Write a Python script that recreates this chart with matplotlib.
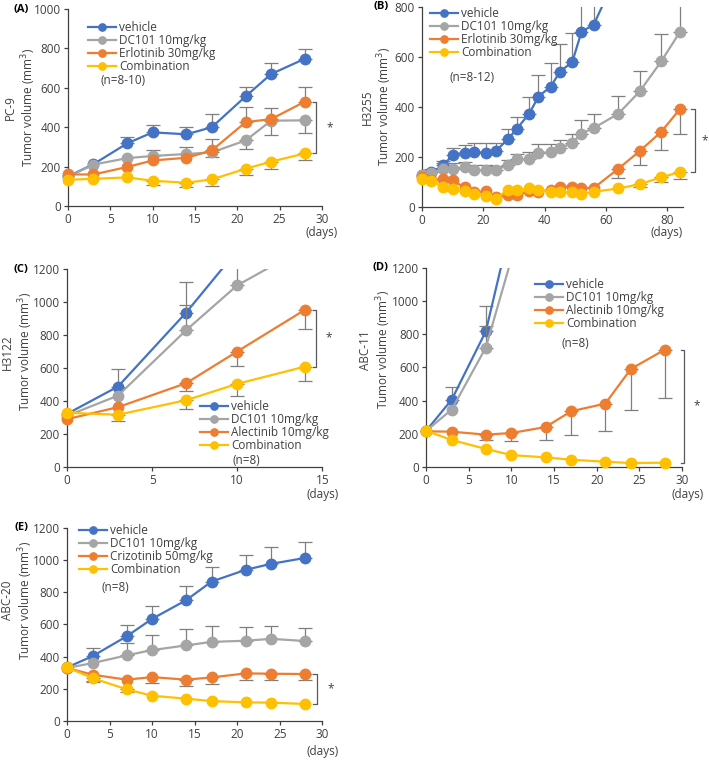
import numpy as np
import matplotlib
matplotlib.use("Agg")
from matplotlib import pyplot as plt
from matplotlib.patches import Rectangle
from matplotlib import transforms

plt.rcParams['font.family'] = ['Open Sans', 'DejaVu Sans']

# colours (Excel-like)
C_VEH = '#4472C4'
C_DC = '#A5A5A5'
C_DRUG = '#ED7D31'
C_COMBO = '#FFC000'
C_ERR = '#7F7F7F'
C_TXT = '#404040'

# ---------------- data (None = no error bar visible) ----------------
# (A) PC-9
a_days = [0, 3, 7, 10, 14, 17, 21, 24, 28]
a_vehicle = [150, 212, 318, 374, 364, 400, 557, 670, 748]
a_vehicle_err = [None, None, 351, 410, 402, 467, 605, 724, 796]
a_dc101 = [148, 210, 243, 254, 264, 272, 333, 433, 435]
a_dc101_err = [None, None, None, 282, 302, 250, 290, 362, 372]
a_erlo = [160, 160, 198, 231, 245, 282, 426, 441, 530]
a_erlo_err = [None, None, None, None, None, 341, 502, 497, 602]
a_combo = [133, 138, 145, 128, 118, 135, 189, 225, 267]
a_combo_err = [None, None, None, 107, 97, 100, 155, 186, 231]

# (B) H3255
b_days_vehicle = [0, 3, 7, 10, 14, 17, 21, 24, 28, 31, 35, 38, 42, 45, 49, 52, 56, 63]
b_vehicle = [125, 138, 165, 208, 216, 218, 216, 222, 270, 313, 373, 441, 481, 541, 579, 700, 729, 915]
b_vehicle_err = [None, 150, 182, 236, 248, 255, 257, 257, 310, 360, 440, 527, 575, 653, 697, 880, 930, None]
b_days = [0, 3, 7, 10, 14, 17, 21, 24, 28, 31, 35, 38, 42, 45, 49, 52, 56, 64, 71, 78, 84]
b_dc101 = [128, 133, 152, 152, 157, 148, 145, 145, 168, 190, 190, 215, 218, 235, 255, 293, 315, 372, 462, 582, 698]
b_dc101_err = [None, None, 175, 175, 180, 165, 165, 163, 188, 213, 218, 250, 250, 268, 293, 347, 372, 442, 545, 693, 850]
b_erlo = [117, 108, 110, 105, 77, 59, 61, 40, 48, 48, 61, 60, 68, 80, 80, 75, 75, 152, 223, 300, 390]
b_erlo_err = [None] * 17 + [113, 165, 228, 293]
b_combo = [112, 104, 78, 70, 62, 50, 43, 31, 68, 65, 73, 65, 60, 58, 57, 50, 60, 73, 90, 118, 138]
b_combo_err = [None] * 18 + [78, 97, 112]

# (C) H3122
c_days = [0, 3, 7, 10, 14]
c_days_vehicle = [0, 3, 7, 10]
c_vehicle = [322, 488, 936, 1312]
c_vehicle_err = [None, 595, 1119, None]
c_dc101 = [310, 433, 829, 1101, 1330]
c_dc101_err = [None, None, 980, 1300, None]
c_alec = [290, 363, 508, 700, 954]
c_alec_err = [None, None, 462, 613, 839]
c_combo = [329, 317, 405, 504, 609]
c_combo_err = [None, 278, 349, 429, 524]

# (D) ABC-11
d_days = [0, 3, 7, 10, 14, 17, 21, 24, 28]
d_days_short = [0, 3, 7, 10]
d_vehicle = [218, 406, 818, 1470]
d_vehicle_err = [None, 482, 973, None]
d_dc101 = [218, 346, 720, 1255]
d_dc101_err = [None, None, 848, None]
d_alec = [215, 213, 195, 205, 241, 336, 382, 591, 708]
d_alec_err = [None, None, 165, 157, 161, 195, 219, 344, 416]
d_combo = [218, 163, 109, 72, 58, 44, 32, 24, 26]
d_combo_err = [None] * 9

# (E) ABC-20
e_days = [0, 3, 7, 10, 14, 17, 21, 24, 28]
e_vehicle = [333, 403, 526, 635, 751, 867, 940, 977, 1014]
e_vehicle_err = [None, 453, 598, 716, 840, 956, 1032, 1080, 1111]
e_dc101 = [330, 360, 408, 441, 470, 492, 499, 511, 497]
e_dc101_err = [None, None, 486, 536, 573, 590, 583, 592, 579]
e_crizo = [330, 288, 257, 273, 257, 271, 296, 294, 292]
e_crizo_err = [None, 250, None, 236, 215, 230, 257, 258, 255]
e_combo = [333, 267, 197, 157, 139, 124, 116, 114, 106]
e_combo_err = [None, 245, 180, None, None, None, None, None, None]


def clip_it(artist, ax):
    # clip at top of axes only, let markers at x=0 hang over the spine
    artist.set_clip_path(Rectangle((-0.06, -0.06), 1.12, 1.06, transform=ax.transAxes))


def draw_panel(ax, series, xmax, xstep, ymax, cell, letter, n_text, n_pos,
               leg_pos, ylab_xy, letter_x, brk_x, star_x, days_xy):
    for z, (label, days, vals, err, col) in enumerate(series):
        days = np.array(days, float)
        vals = np.array(vals, float)
        ends = np.array([np.nan if e is None else e for e in err], float)
        ok = ~np.isnan(ends)
        if ok.any():
            lo = np.where(ends < vals, vals - ends, 0)[ok]
            hi = np.where(ends > vals, ends - vals, 0)[ok]
            eb = ax.errorbar(days[ok], vals[ok], yerr=[lo, hi], fmt='none', ecolor=C_ERR,
                             elinewidth=0.9, capsize=5, capthick=0.9, zorder=2 + z)
            for ch in eb.get_children():
                clip_it(ch, ax)
        ln, = ax.plot(days, vals, '-o', color=col, lw=1.6, ms=7.5, label=label, zorder=2.5 + z)
        clip_it(ln, ax)

    ax.set_xlim(0, xmax)
    ax.set_ylim(0, ymax)
    ax.set_xticks(np.arange(0, xmax + 0.1, xstep))
    ax.set_yticks(np.arange(0, ymax + 1, 200))
    for s in ['top', 'right']:
        ax.spines[s].set_visible(False)
    for s in ['left', 'bottom']:
        ax.spines[s].set_color(C_TXT)
        ax.spines[s].set_linewidth(0.9)
    ax.tick_params(direction='out', length=3, width=0.9, color=C_TXT,
                   labelsize=8.5, labelcolor=C_TXT, pad=2)
    ax.set_ylabel(cell + '\nTumor volume (mm$^3$)', fontsize=8.5, color=C_TXT,
                  linespacing=1.15, multialignment='center')
    ax.yaxis.set_label_coords(*ylab_xy)

    ax.legend(loc='upper left', bbox_to_anchor=leg_pos, frameon=False, fontsize=8.5,
              handlelength=2.4, handletextpad=0.25, labelspacing=0.0, borderpad=0,
              borderaxespad=0, markerscale=0.7, labelcolor=C_TXT)
    ax.text(n_pos[0], n_pos[1], n_text, fontsize=8.5, color=C_TXT, va='center', ha='left')

    # significance bracket between single drug and combination at last day
    y_top = series[2][2][-1]
    y_bot = series[3][2][-1]
    tr = transforms.blended_transform_factory(ax.transAxes, ax.transData)
    ax.plot([brk_x - 0.014, brk_x, brk_x, brk_x - 0.014], [y_top, y_top, y_bot, y_bot],
            color='#595959', lw=0.9, transform=tr, clip_on=False)
    ax.text(star_x, (y_top + y_bot) / 2, '*', fontsize=8.5, color=C_TXT,
            ha='center', va='center', transform=tr)

    ax.text(days_xy[0], days_xy[1], '(days)', fontsize=8.5, color=C_TXT,
            ha='center', va='center', transform=ax.transAxes)
    ax.text(letter_x, 1.0, letter, fontsize=8, fontweight='bold', color='black',
            ha='center', va='center', transform=ax.transAxes)


fig = plt.figure(figsize=(7.09, 7.60), dpi=100)

axA = fig.add_axes([0.0959, 0.729, 0.358, 0.259])
axB = fig.add_axes([0.595, 0.728, 0.368, 0.263])
axC = fig.add_axes([0.0945, 0.3855, 0.360, 0.2605])
axD = fig.add_axes([0.601, 0.3855, 0.361, 0.262])
axE = fig.add_axes([0.0945, 0.0513, 0.360, 0.254])

draw_panel(axA, [('vehicle', a_days, a_vehicle, a_vehicle_err, C_VEH),
                 ('DC101 10mg/kg', a_days, a_dc101, a_dc101_err, C_DC),
                 ('Erlotinib 30mg/kg', a_days, a_erlo, a_erlo_err, C_DRUG),
                 ('Combination', a_days, a_combo, a_combo_err, C_COMBO)],
           30, 5, 1000, 'PC-9', '(A)', '(n=8-10)', (3.9, 635),
           (0.079, 0.94), (-0.118, 0.5), -0.185, 0.979, 1.03, (1.0, -0.135))

draw_panel(axB, [('vehicle', b_days_vehicle, b_vehicle, b_vehicle_err, C_VEH),
                 ('DC101 10mg/kg', b_days, b_dc101, b_dc101_err, C_DC),
                 ('Erlotinib 30mg/kg', b_days, b_erlo, b_erlo_err, C_DRUG),
                 ('Combination', b_days, b_combo, b_combo_err, C_COMBO)],
           85, 20, 800, 'H3255', '(B)', '(n=8-12)', (9, 517),
           (0.031, 0.998), (-0.106, 0.5), -0.157, 1.046, 1.084, (0.94, -0.13))

draw_panel(axC, [('vehicle', c_days_vehicle, c_vehicle, c_vehicle_err, C_VEH),
                 ('DC101 10mg/kg', c_days, c_dc101, c_dc101_err, C_DC),
                 ('Alectinib 10mg/kg', c_days, c_alec, c_alec_err, C_DRUG),
                 ('Combination', c_days, c_combo, c_combo_err, C_COMBO)],
           15, 5, 1200, 'H3122', '(C)', '(n=8)', (9.7, 42),
           (0.52, 0.34), (-0.127, 0.582), -0.18, 0.976, 1.025, (1.0, -0.14))

draw_panel(axD, [('vehicle', d_days_short, d_vehicle, d_vehicle_err, C_VEH),
                 ('DC101 10mg/kg', d_days_short, d_dc101, d_dc101_err, C_DC),
                 ('Alectinib 10mg/kg', d_days, d_alec, d_alec_err, C_DRUG),
                 ('Combination', d_days, d_combo, d_combo_err, C_COMBO)],
           30, 5, 1200, 'ABC-11', '(D)', '(n=8)', (15.9, 746),
           (0.426, 0.948), (-0.131, 0.588), -0.18, 1.008, 1.059, (1.02, -0.14))

draw_panel(axE, [('vehicle', e_days, e_vehicle, e_vehicle_err, C_VEH),
                 ('DC101 10mg/kg', e_days, e_dc101, e_dc101_err, C_DC),
                 ('Crizotinib 50mg/kg', e_days, e_crizo, e_crizo_err, C_DRUG),
                 ('Combination', e_days, e_combo, e_combo_err, C_COMBO)],
           30, 5, 1200, 'ABC-20', '(E)', '(n=8)', (4.1, 829),
           (0.047, 1.018), (-0.127, 0.624), -0.18, 0.979, 1.035, (1.0, -0.16))

fig.savefig('out.png', dpi=100)
